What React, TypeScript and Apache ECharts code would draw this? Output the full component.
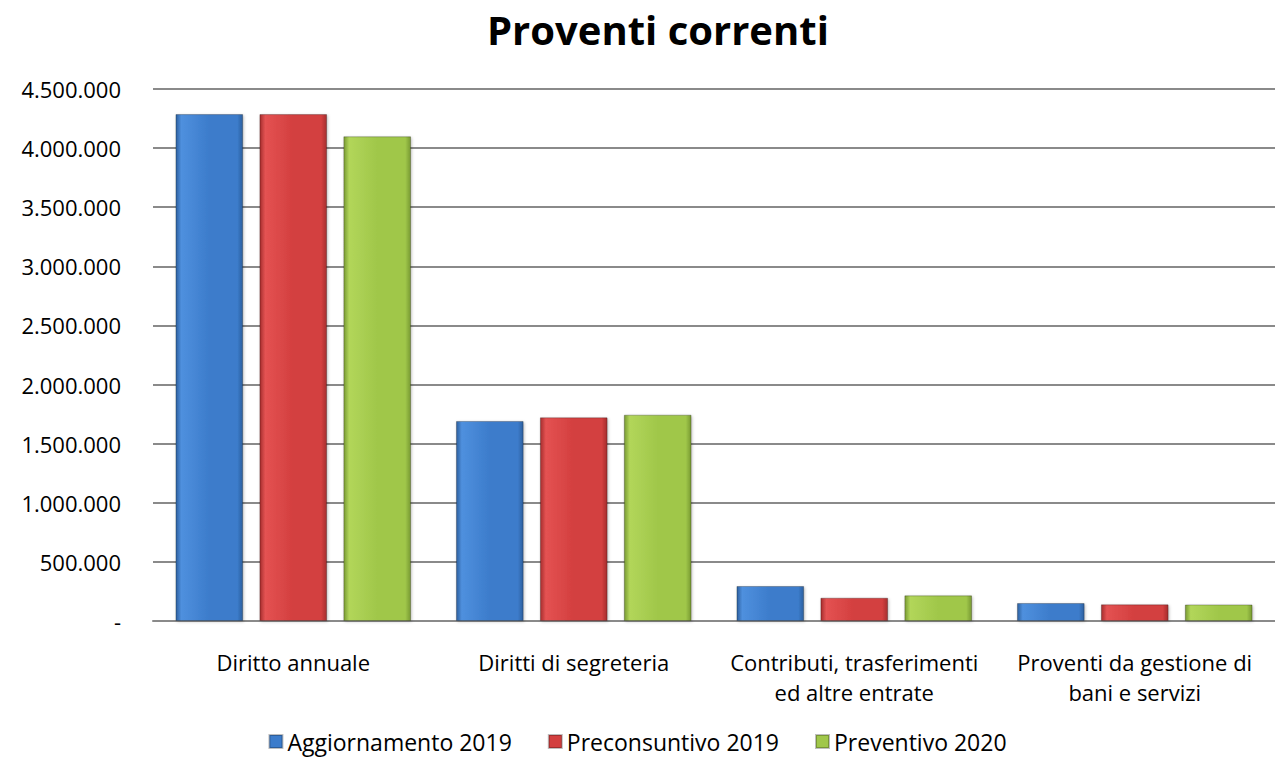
import React, { useEffect, useRef } from "react";
import * as echarts from "echarts";

const categories = [
  "Diritto annuale",
  "Diritti di segreteria",
  "Contributi, trasferimenti\ned altre entrate",
  "Proventi da gestione di\nbani e servizi",
];
const aggiornamento2019 = [4288000, 1692000, 296000, 152000];
const preconsuntivo2019 = [4288000, 1723000, 197000, 141000];
const preventivo2020 = [4100000, 1745000, 217000, 140000];
const seriesNames = ["Aggiornamento 2019", "Preconsuntivo 2019", "Preventivo 2020"];

const FONT = "'Open Sans', 'Noto Sans', sans-serif";

function grad(light: string, mid: string, dark: string) {
  return new echarts.graphic.LinearGradient(0, 0, 1, 0, [
    { offset: 0, color: dark },
    { offset: 0.08, color: light },
    { offset: 0.5, color: mid },
    { offset: 0.92, color: mid },
    { offset: 1, color: dark },
  ]);
}

function fmt(v: number) {
  if (v === 0) return "-";
  return String(Math.round(v)).replace(/\B(?=(\d{3})+(?!\d))/g, ".");
}

export default function App() {
  const ref = useRef<HTMLDivElement>(null);
  useEffect(() => {
    if (!ref.current) return;
    const chart = echarts.init(ref.current, undefined, { renderer: "svg" });
    const colors = [
      grad("#4f90de", "#3c7ccb", "#2c5f9e"),
      grad("#e45252", "#d33f3f", "#a52d2d"),
      grad("#b2d65a", "#a0c74a", "#789a32"),
    ];
    const legendColors = ["#3c7ccb", "#d33f3f", "#a0c74a"];
    const data = [aggiornamento2019, preconsuntivo2019, preventivo2020];
    chart.setOption({
      animation: false,
      title: {
        text: "Proventi correnti",
        left: 482,
        top: 4,
        textStyle: { fontFamily: FONT, fontSize: 40, fontWeight: "bold", color: "#000" },
      },
      legend: {
        bottom: 2,
        left: "center",
        itemWidth: 13,
        itemHeight: 13,
        itemGap: 36,
        icon: "rect",
        textStyle: { fontFamily: FONT, fontSize: 23, color: "#000" },
        data: seriesNames.map((n, i) => ({ name: n, itemStyle: { color: legendColors[i] } })),
      },
      grid: { left: 153, right: 0, top: 89, bottom: 139, containLabel: false },
      xAxis: {
        type: "category",
        data: categories,
        axisLine: { lineStyle: { color: "#8a8a8a", width: 2 } },
        axisTick: { show: false },
        axisLabel: {
          fontFamily: FONT,
          fontSize: 22,
          color: "#000",
          lineHeight: 30,
          margin: 26,
          interval: 0,
        },
      },
      yAxis: {
        type: "value",
        min: 0,
        max: 4500000,
        interval: 500000,
        axisLine: { show: false },
        axisTick: { show: false },
        splitLine: { lineStyle: { color: "#8a8a8a", width: 2 } },
        axisLabel: {
          fontFamily: FONT,
          fontSize: 22,
          color: "#000",
          margin: 32,
          formatter: fmt,
        },
      },
      series: seriesNames.map((n, i) => ({
        name: n,
        type: "bar",
        data: data[i],
        barGap: "24%",
        barCategoryGap: "16%",
        itemStyle: {
          color: colors[i],
          borderColor: "rgba(0,0,0,0.25)",
          borderWidth: 1,
          shadowColor: "rgba(0,0,0,0.25)",
          shadowBlur: 3,
          shadowOffsetX: 1,
          shadowOffsetY: 1,
        },
      })),
    });
    return () => chart.dispose();
  }, []);
  return (
    <div
      ref={ref}
      style={{ position: "absolute", left: 0, top: 0, width: 1275, height: 760, background: "#fff" }}
    />
  );
}
